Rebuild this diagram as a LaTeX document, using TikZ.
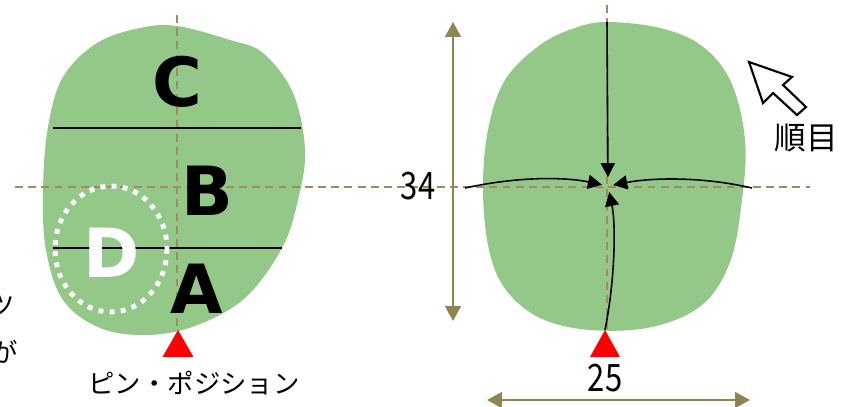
\documentclass[tikz,border=0pt]{standalone}
\usepackage{fontspec}
\setmainfont{Noto Sans CJK JP}
\newfontfamily\lblfont{DejaVu Sans}
\newfontfamily\numfont[FakeStretch=0.82]{Noto Sans CJK JP}
\usetikzlibrary{arrows.meta, calc}
\definecolor{turf}{HTML}{94C888}
\definecolor{guide}{HTML}{A08A60}
\definecolor{dimcol}{HTML}{8F8550}
\tikzset{
  blob/.style={fill=turf, draw=none},
  guideline/.style={guide, line width=1pt, dash pattern=on 4.5pt off 3pt},
  cutline/.style={black, line width=1pt},
  zone/.style={font=\lblfont\bfseries\fontsize{38.6}{40}\selectfont, inner sep=0pt},
  dimline/.style={dimcol, line width=1.2pt, {Triangle[length=8.5pt,width=9pt]}-{Triangle[length=8.5pt,width=9pt]}},
  flow/.style={black, line width=0.9pt, -{Triangle[length=8pt,width=8pt]}},
  pinmark/.style={fill=red, draw=none},
  jp/.style={inner sep=0pt, font=\fontsize{15}{16}\selectfont},
  num/.style={inner sep=0pt, font=\numfont\fontsize{21.5}{22}\selectfont}
}
\begin{document}
\begin{tikzpicture}[x=0.02cm, y=-0.02cm]
  \useasboundingbox (0,0) rectangle (841,406);
  % green shapes
  \fill[blob] plot[smooth cycle, tension=0.6] coordinates {
    (177,26) (230,40) (263,53) (293,93) (305,150) (298,200) (282,248)
    (245,298) (195,326) (147,335) (100,328) (63,300) (46,250) (43,190)
    (48,127) (63,77) (97,43) (140,28)};
  \fill[blob] plot[smooth cycle, tension=0.6] coordinates {
    (607,22) (660,28) (702,46) (731,82) (745,140) (742,200) (730,262)
    (702,305) (652,327) (590,330) (540,318) (506,290) (489,250) (483,190)
    (488,130) (505,80) (540,45) (575,28)};
  % guide lines
  \draw[guideline] (15,187) -- (810,187);
  \draw[guideline] (177,15) -- (177,330);
  \draw[guideline] (607,5) -- (607,330);
  % left picture
  \draw[cutline] (53,128) -- (301,128);
  \draw[cutline] (53,248) -- (282,248);
  \draw[white, line width=2.8pt, dash pattern=on 2.8pt off 3.6pt] (111,249) ellipse [x radius=56, y radius=63];
  \foreach \x/\y/\l in {177/82/C, 207/191/B, 197/289/A} {
    \node[zone] (zone\l) at (\x,\y) {\l};
  }
  \node[zone, white] (zoneD) at (112,253) {D};
  \coordinate (pinL) at (178,330);
  \fill[pinmark] (pinL) -- ++(-15.5,27) -- ++(31,0) -- cycle;
  \node[jp] (pinlbl) at (194,383) {ピン・ポジション};
  \node[jp, anchor=east] (cutA) at (15,306) {ツ};
  \node[jp, anchor=east] (cutB) at (18,352) {が};
  % right picture
  \coordinate (ctr) at (608,186);
  \coordinate (north) at (607,22);
  \coordinate (west) at (465,188);
  \coordinate (east) at (752,188);
  \coordinate (pinR) at (605,330);
  \draw[flow, shorten >=5pt] (north) -- (ctr);
  \draw[flow, shorten >=3.5pt] (west) .. controls (525,175) and (570,178) .. (ctr);
  \draw[flow, shorten >=3pt] (east) .. controls (700,176) and (650,178) .. (ctr);
  \draw[flow, shorten >=3.5pt] (pinR) .. controls (615,280) and (616,225) .. (ctr);
  \fill[pinmark] (pinR) -- ++(-15,27) -- ++(30,0) -- cycle;
  \coordinate (dimT) at (453,22);
  \coordinate (dimB) at (453,321);
  \coordinate (dimL) at (487,400);
  \coordinate (dimR) at (750,400);
  \draw[dimline] (dimT) -- (dimB);
  \draw[dimline] (dimL) -- (dimR);
  \node[num] (len) at (418,186) {34};
  \node[num] (wid) at (605,378) {25};
  % grain arrow
  \draw[black, line width=1.2pt, fill=white, line join=miter]
    (749,62) -- (763,103) -- (773,93) -- (797,115) -- (806,107) -- (783,85) -- (792,77) -- cycle;
  \node[jp, font=\fontsize{18}{19}\selectfont] (grain) at (806,138) {順目};
\end{tikzpicture}
\end{document}
